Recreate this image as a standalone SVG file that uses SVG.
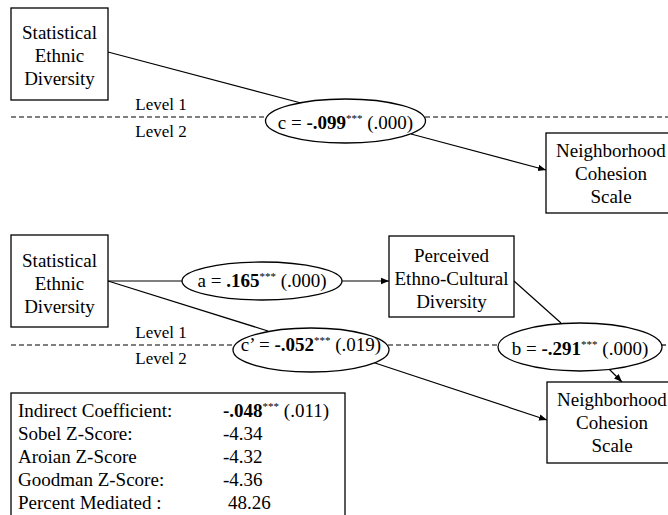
<svg xmlns="http://www.w3.org/2000/svg" width="668" height="515" viewBox="0 0 668 515">
<style>
  .box { fill: #fff; stroke: #000; stroke-width: 1.3; }
  .ell { fill: #fff; stroke: #000; stroke-width: 1.3; }
  text { font-family: 'Liberation Serif', 'Times New Roman', 'DejaVu Serif', serif; fill: #000; }
  .t { font-size: 19px; }
  .c { text-anchor: middle; }
  .lvl { font-size: 17px; text-anchor: middle; }
  .b { font-weight: bold; }
  .sup { font-size: 11px; }
  .con { stroke: #000; stroke-width: 1.2; fill: none; }
  .dash { stroke: #000; stroke-width: 1.2; stroke-dasharray: 5,3; fill: none; }
</style>
<defs>
  <marker id="arr" viewBox="0 0 10 10" refX="10" refY="5" markerWidth="8" markerHeight="8" markerUnits="userSpaceOnUse" orient="auto">
    <path d="M0,1 L10,5 L0,9 Z" fill="#000"/>
  </marker>
</defs>
<rect width="668" height="515" fill="#fff"/>

<g id="levels">
  <line class="dash" x1="11" y1="117" x2="266" y2="117"/>
  <line class="dash" x1="425" y1="117" x2="668" y2="117"/>
  <line class="dash" x1="11" y1="345" x2="234" y2="345"/>
  <line class="dash" x1="388" y1="345" x2="499" y2="345"/>
  <line class="dash" x1="661" y1="345" x2="668" y2="345"/>
  <text class="lvl" x="161" y="110">Level 1</text>
  <text class="lvl" x="161" y="137">Level 2</text>
  <text class="lvl" x="161" y="338">Level 1</text>
  <text class="lvl" x="161" y="364">Level 2</text>
</g>

<g id="connectors">
  <line class="con" x1="108" y1="52" x2="301" y2="103"/>
  <line class="con" x1="411" y1="134" x2="546" y2="170" marker-end="url(#arr)"/>
  <line class="con" x1="108" y1="281" x2="183" y2="281"/>
  <line class="con" x1="341" y1="281" x2="389" y2="281" marker-end="url(#arr)"/>
  <line class="con" x1="108" y1="281" x2="268" y2="331"/>
  <line class="con" x1="372" y1="362" x2="547" y2="420" marker-end="url(#arr)"/>
  <line class="con" x1="514" y1="281" x2="561" y2="323"/>
  <line class="con" x1="609" y1="369" x2="622" y2="382" marker-end="url(#arr)"/>
</g>

<g id="sed-top">
  <rect class="box" x="11" y="8" width="97" height="92"/>
  <text class="t c" x="59.5" y="39">Statistical</text>
  <text class="t c" x="59.5" y="62">Ethnic</text>
  <text class="t c" x="59.5" y="85">Diversity</text>
</g>

<g id="c-path">
  <ellipse class="ell" cx="345.5" cy="121" rx="80" ry="22"/>
  <text class="t c" x="345.5" y="129">c = <tspan class="b">-.099</tspan><tspan class="sup" dy="-7">***</tspan><tspan dy="7"> (.000)</tspan></text>
</g>

<g id="nc-top">
  <rect class="box" x="546" y="133" width="132" height="80"/>
  <text class="t c" x="611" y="157">Neighborhood</text>
  <text class="t c" x="611" y="180">Cohesion</text>
  <text class="t c" x="611" y="203">Scale</text>
</g>

<g id="sed-bottom">
  <rect class="box" x="11" y="235" width="97" height="92"/>
  <text class="t c" x="59.5" y="267">Statistical</text>
  <text class="t c" x="59.5" y="290">Ethnic</text>
  <text class="t c" x="59.5" y="313">Diversity</text>
</g>

<g id="a-path">
  <ellipse class="ell" cx="262" cy="281" rx="80" ry="19"/>
  <text class="t c" x="262" y="287">a = <tspan class="b">.165</tspan><tspan class="sup" dy="-7">***</tspan><tspan dy="7"> (.000)</tspan></text>
</g>

<g id="pecd">
  <rect class="box" x="389" y="236" width="125" height="81"/>
  <text class="t c" x="451.5" y="262">Perceived</text>
  <text class="t c" x="451.5" y="285">Ethno-Cultural</text>
  <text class="t c" x="451.5" y="308">Diversity</text>
</g>

<g id="cprime-path">
  <ellipse class="ell" cx="311" cy="350" rx="78" ry="22"/>
  <text class="t c" x="311" y="351">c’ = <tspan class="b">-.052</tspan><tspan class="sup" dy="-7">***</tspan><tspan dy="7"> (.019)</tspan></text>
</g>

<g id="b-path">
  <ellipse class="ell" cx="580" cy="347" rx="82" ry="24"/>
  <text class="t c" x="580" y="355">b = <tspan class="b">-.291</tspan><tspan class="sup" dy="-7">***</tspan><tspan dy="7"> (.000)</tspan></text>
</g>

<g id="nc-bottom">
  <rect class="box" x="547" y="382" width="132" height="81"/>
  <text class="t c" x="612" y="406">Neighborhood</text>
  <text class="t c" x="612" y="429">Cohesion</text>
  <text class="t c" x="612" y="452">Scale</text>
</g>

<g id="stats">
  <rect class="box" x="11" y="393" width="334" height="140"/>
  <text class="t" x="18" y="417">Indirect Coefficient:</text>
  <text class="t" x="223" y="417"><tspan class="b">-.048</tspan><tspan class="sup" dy="-7">***</tspan><tspan dy="7"> (.011)</tspan></text>
  <text class="t" x="18" y="440">Sobel Z-Score:</text>
  <text class="t" x="223" y="440">-4.34</text>
  <text class="t" x="18" y="463">Aroian Z-Score</text>
  <text class="t" x="223" y="463">-4.32</text>
  <text class="t" x="18" y="486">Goodman Z-Score:</text>
  <text class="t" x="223" y="486">-4.36</text>
  <text class="t" x="18" y="509">Percent Mediated :</text>
  <text class="t" x="228" y="509">48.26</text>
</g>
</svg>
